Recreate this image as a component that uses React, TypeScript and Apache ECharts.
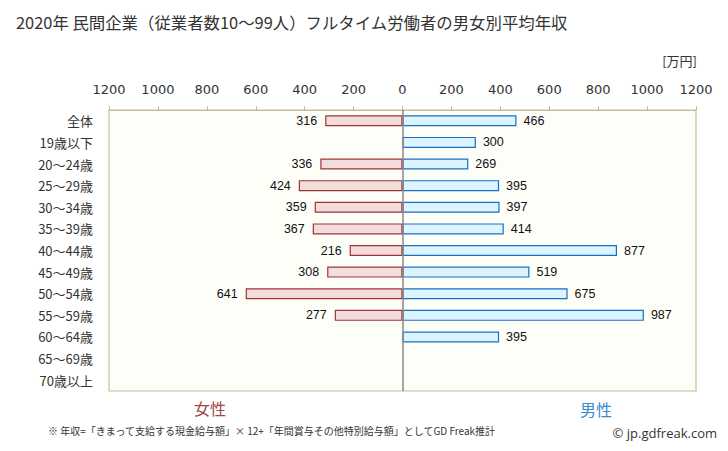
import React, { useEffect, useRef } from "react";
import * as echarts from "echarts";

const titleText = "2020年 民間企業（従業者数10〜99人）フルタイム労働者の男女別平均年収";
const categories = ["全体", "19歳以下", "20〜24歳", "25〜29歳", "30〜34歳", "35〜39歳", "40〜44歳", "45〜49歳", "50〜54歳", "55〜59歳", "60〜64歳", "65〜69歳", "70歳以上"];
const female: (number | null)[] = [316, null, 336, 424, 359, 367, 216, 308, 641, 277, null, null, null];
const male: (number | null)[] = [466, 300, 269, 395, 397, 414, 877, 519, 675, 987, 395, null, null];
const unitText = "[万円]";
const femaleLabel = "女性";
const maleLabel = "男性";
const noteText = "※ 年収=「きまって支給する現金給与額」× 12+「年間賞与その他特別給与額」としてGD Freak推計";
const creditText = "© jp.gdfreak.com";

export default function App() {
  const ref = useRef<HTMLDivElement>(null);
  useEffect(() => {
    if (!ref.current) return;
    const chart = echarts.init(ref.current, null, { renderer: "svg" });
    const cjk = "'Noto Sans CJK JP', 'DejaVu Sans', sans-serif";
    chart.setOption({
      animation: false,
      backgroundColor: "#ffffff",
      grid: {
        left: 109,
        right: 32,
        top: 110,
        height: 281,
        show: true,
        backgroundColor: "#fefef9",
        borderColor: "#c8bc94",
        borderWidth: 1.2,
        containLabel: false,
      },
      xAxis: {
        type: "value",
        position: "top",
        min: -1200,
        max: 1200,
        interval: 200,
        splitLine: { show: false },
        axisLine: { show: true, lineStyle: { color: "#c8bc94" } },
        axisTick: { show: true, length: 4, lineStyle: { color: "#c8bc94" } },
        axisLabel: {
          margin: 14,
          color: "#333",
          fontSize: 13,
          fontFamily: "'DejaVu Sans', sans-serif",
          formatter: (v: number) => String(Math.abs(v)),
        },
      },
      yAxis: {
        type: "category",
        data: categories,
        inverse: true,
        axisLine: { show: false },
        axisTick: { show: false },
        axisLabel: { margin: 16, color: "#333", fontSize: 13, fontFamily: cjk },
      },
      series: [
        {
          type: "bar",
          name: "female",
          data: female.map((v) => (v == null ? null : -v)),
          barWidth: 11,
          barGap: "-100%",
          itemStyle: { color: "#f2dcdc", borderColor: "#a03434", borderWidth: 1.2 },
          label: {
            show: true,
            position: "left",
            distance: 8,
            color: "#111",
            fontSize: 12.5,
            fontFamily: "'Liberation Sans', Arial, sans-serif",
            formatter: (p: any) => String(Math.abs(p.value)),
          },
          markLine: {
            silent: true,
            symbol: "none",
            label: { show: false },
            lineStyle: { color: "#888888", width: 1.5, type: "solid" },
            data: [{ xAxis: 0 }],
          },
        },
        {
          type: "bar",
          name: "male",
          data: male,
          barWidth: 11,
          barGap: "-100%",
          itemStyle: { color: "#dcf4ff", borderColor: "#1a6fc0", borderWidth: 1.2 },
          label: {
            show: true,
            position: "right",
            distance: 7,
            color: "#111",
            fontSize: 12.5,
            fontFamily: "'Liberation Sans', Arial, sans-serif",
          },
        },
      ],
      graphic: [
        {
          type: "text",
          left: 16,
          top: 14,
          style: { text: titleText, fontSize: 16.4, fill: "#333", fontFamily: cjk },
        },
        {
          type: "text",
          right: 31,
          top: 54,
          style: { text: unitText, fontSize: 13, fill: "#333", fontFamily: cjk },
        },
        {
          type: "text",
          x: 210,
          y: 408,
          style: { text: femaleLabel, fontSize: 16, fill: "#a0484c", fontFamily: cjk, align: "center", verticalAlign: "middle" },
        },
        {
          type: "text",
          x: 596,
          y: 409,
          style: { text: maleLabel, fontSize: 16, fill: "#3a8ad0", fontFamily: cjk, align: "center", verticalAlign: "middle" },
        },
        {
          type: "text",
          x: 48,
          y: 430,
          style: { text: noteText, fontSize: 10, fill: "#333", fontFamily: cjk, verticalAlign: "middle" },
        },
        {
          type: "text",
          right: 11,
          top: 426,
          style: { text: creditText, fontSize: 13, fill: "#333", fontFamily: "'Open Sans', 'DejaVu Sans', sans-serif" },
        },
      ],
    });
    return () => chart.dispose();
  }, []);
  return <div ref={ref} style={{ width: 728, height: 451, position: "absolute", left: 0, top: 0 }} />;
}
